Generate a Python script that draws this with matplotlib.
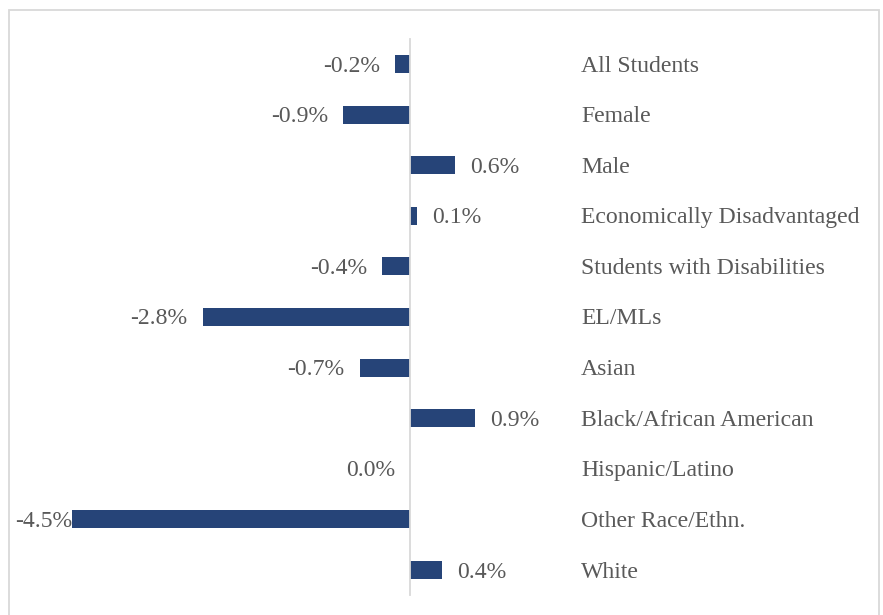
import matplotlib.pyplot as plt
import matplotlib.transforms as mtransforms
from matplotlib.patches import Rectangle

# ── Data ─────────────────────────────────────────────────────────────────────
grupos = ['All Students', 'Female', 'Male', 'Economically Disadvantaged',
          'Students with Disabilities', 'EL/MLs', 'Asian',
          'Black/African American', 'Hispanic/Latino', 'Other Race/Ethn.',
          'White']
variacao = [-0.20, -0.89, 0.60, 0.09, -0.37, -2.76, -0.67, 0.87, 0.0, -4.50, 0.43]

# ── Style ────────────────────────────────────────────────────────────────────
plt.rcParams['font.family'] = ['Liberation Serif', 'DejaVu Serif']
plt.rcParams['font.size'] = 17.1
cor_barra = '#264478'
cor_texto = '#595959'
cor_linha = '#d9d9d9'

W, H = 883, 615
fig = plt.figure(figsize=(W / 100, H / 100), dpi=100)

# plot area in pixels
x0, x1 = 64.5, 560.2
y_top, y_bot = 38.7, 595.3
ax = fig.add_axes([x0 / W, 1 - y_bot / H, (x1 - x0) / W, (y_bot - y_top) / H])

pos = list(range(len(grupos)))
ax.barh(pos, variacao, height=0.356, color=cor_barra)
ax.set_xlim(-4.6, 2.0)
ax.set_ylim(len(grupos) - 0.5, -0.5)

for s in ['top', 'right', 'bottom']:
    ax.spines[s].set_visible(False)
ax.spines['left'].set_position(('data', 0))
ax.spines['left'].set_color(cor_linha)
ax.spines['left'].set_linewidth(1.3)
ax.set_xticks([])
ax.set_yticks([])

DY = -2  # small downward nudge of text, in pixels

# value labels
rotulos = []
for y, v in zip(pos, variacao):
    txt = f'{abs(v):.1f}%' if round(v, 1) == 0 else f'{v:.1f}%'
    if v > 0:
        t = ax.annotate(txt, xy=(v, y), xytext=(15, DY),
                        textcoords='offset pixels', ha='left', va='center',
                        color=cor_texto)
    else:
        t = ax.annotate(txt, xy=(v, y), xytext=(-15, DY),
                        textcoords='offset pixels', ha='right', va='center',
                        color=cor_texto)
    rotulos.append(t)

# keep labels inside the chart area (like Excel does)
fig.canvas.draw()
for t in rotulos:
    bb = t.get_window_extent()
    if bb.x0 < 15:
        dx, dy = t.xyann
        t.xyann = (dx + (15 - bb.x0), dy)

# category labels on the right
trans = mtransforms.blended_transform_factory(fig.transFigure, ax.transData)
for y, g in zip(pos, grupos):
    ax.annotate(g, xy=(581 / W, y), xycoords=trans, xytext=(0, DY),
                textcoords='offset pixels', ha='left', va='center',
                color=cor_texto)

# chart border
fig.patches.append(Rectangle((8.5 / W, -0.02), (879 - 8.5) / W, 1 - 9.5 / H + 0.02,
                             transform=fig.transFigure, fill=False,
                             edgecolor=cor_linha, linewidth=1.3))

fig.savefig('out.png', dpi=100)
